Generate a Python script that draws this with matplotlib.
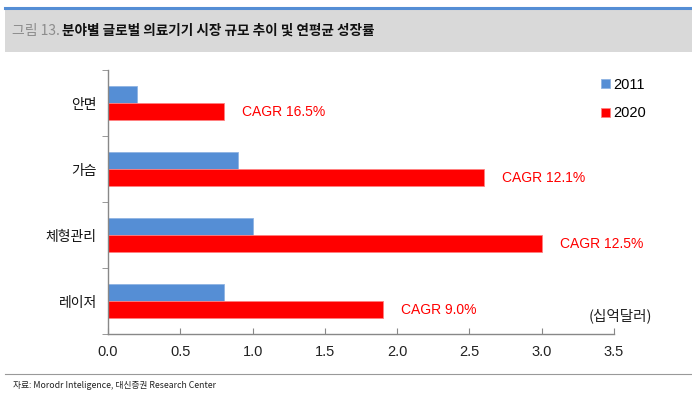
import matplotlib
matplotlib.use('Agg')

import numpy as np
import matplotlib.pyplot as plt
from matplotlib.patches import Rectangle
from matplotlib.lines import Line2D

plt.rcParams['font.family'] = ['Noto Sans CJK KR', 'DejaVu Sans']
latin = ['Liberation Sans', 'DejaVu Sans']

# data (십억달러)
categories = ["안면", "가슴", "체형관리", "레이저"]
val_2011 = [0.2, 0.9, 1.0, 0.8]
val_2020 = [0.8, 2.6, 3.0, 1.9]
cagr_labels = ["CAGR 16.5%", "CAGR 12.1%", "CAGR 12.5%", "CAGR 9.0%"]
xticks = [0.0, 0.5, 1.0, 1.5, 2.0, 2.5, 3.0, 3.5]

blue = "#558ED5"
red = "#FF0000"

fig = plt.figure(figsize=(6.92, 3.94), dpi=100)

# header band
fig.patches.append(Rectangle((5 / 692, 1 - 52 / 394), 687 / 692, 44 / 394,
                             transform=fig.transFigure, facecolor="#D9D9D9",
                             edgecolor="none", zorder=0))
fig.lines.append(Line2D([5 / 692, 1], [1 - 7.5 / 394, 1 - 7.5 / 394],
                        transform=fig.transFigure, color="#558ED5", lw=2.2))
fig.text(12 / 692, 1 - 31 / 394, "그림 13.", fontsize=10, color="#8C8C8C",
         va="center", ha="left")
fig.text(62 / 692, 1 - 31 / 394, "분야별 글로벌 의료기기 시장 규모 추이 및 연평균 성장률",
         fontsize=9.8, color="#111111", va="center", ha="left", fontweight="bold")

# footer
fig.lines.append(Line2D([5 / 692, 1], [1 - 374 / 394, 1 - 374 / 394],
                        transform=fig.transFigure, color="#999999", lw=0.8))
fig.text(13 / 692, 1 - 386 / 394, "자료: Morodr Inteligence, 대신증권 Research Center",
         fontsize=6.3, color="#222222", va="center", ha="left")

ax = fig.add_axes([108 / 692, 60 / 394, 506 / 692, 264 / 394])

y = np.arange(len(categories))
h = 0.265
ax.barh(y - h / 2, val_2011, height=h, color=blue, edgecolor="#8FB4E3",
        linewidth=0.6, label="2011")
ax.barh(y + h / 2, val_2020, height=h, color=red, edgecolor="#FF8080",
        linewidth=0.6, label="2020")

for yi, v, lab in zip(y, val_2020, cagr_labels):
    ax.annotate(lab, xy=(v, yi + h / 2), xytext=(13, 0), textcoords="offset points",
                va="center", ha="left", fontsize=10, color=red, family=latin)

ax.set_ylim(len(categories) - 0.5, -0.5)
ax.set_xlim(0, 3.5)
ax.set_xticks(xticks)
ax.set_xticklabels([f"{t:.1f}" for t in xticks])
ax.set_yticks(y)
ax.set_yticklabels(categories)
ax.set_yticks(np.arange(len(categories) + 1) - 0.5, minor=True)

for s in ["top", "right"]:
    ax.spines[s].set_visible(False)
for s in ["left", "bottom"]:
    ax.spines[s].set_color("#888888")
    ax.spines[s].set_linewidth(1)

ax.tick_params(axis="x", direction="in", length=4, color="#888888",
               labelsize=10.5, labelcolor="#222222", pad=8)
ax.tick_params(axis="y", which="major", length=0, labelsize=10,
               labelcolor="#111111", pad=8)
ax.tick_params(axis="y", which="minor", direction="out", length=4, color="#888888")
for lab in ax.get_xticklabels():
    lab.set_family(latin)

ax.legend(loc="upper right", bbox_to_anchor=(1.09, 1.02), frameon=False,
          handlelength=0.6, handleheight=0.6, handletextpad=0.25,
          labelspacing=1.0, prop={'family': latin, 'size': 10.5})

ax.text(1.075, 0.07, "(십억달러)", transform=ax.transAxes, ha="right", va="center",
        fontsize=10.5, color="#222222")

fig.savefig("out.png", dpi=100)
